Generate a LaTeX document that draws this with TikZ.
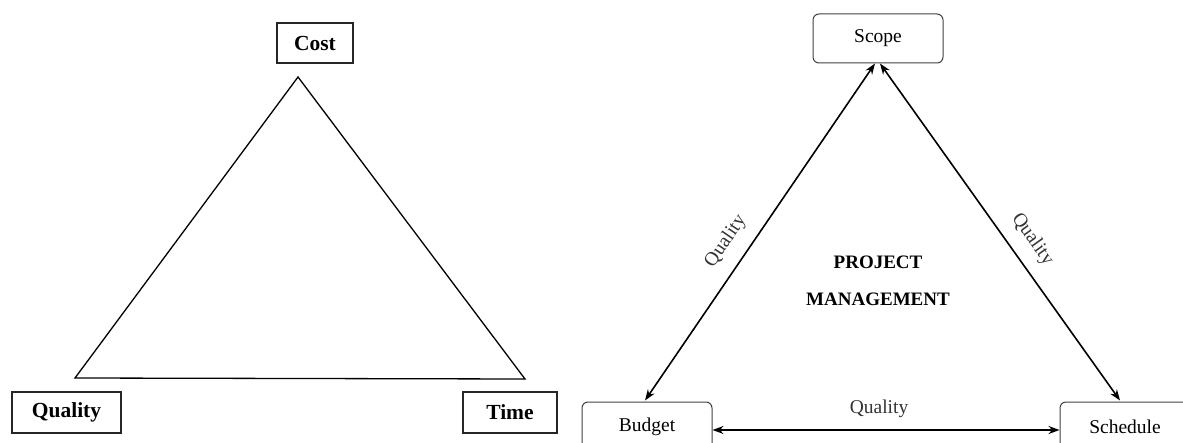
\documentclass[tikz,border=0pt]{standalone}
\usepackage{fontspec}
\setmainfont{Liberation Serif}
\usetikzlibrary{arrows.meta}
\tikzset{
  sqbox/.style={draw=black!85, line width=1.6pt, inner sep=0pt, font=\fontsize{21.5}{25}\selectfont\bfseries},
  rbox/.style={draw=black!75, line width=1pt, rounded corners=6pt, inner sep=0pt, minimum width=130pt, minimum height=50pt, font=\fontsize{19.5}{23}\selectfont},
  tri/.style={line width=1.3pt, line join=miter},
  dbl/.style={line width=1.6pt, {Stealth[length=11pt,width=8pt]}-{Stealth[length=11pt,width=8pt]}},
  qlab/.style={font=\fontsize{19.5}{23}\selectfont, text=black!80},
  pm/.style={font=\fontsize{19}{22}\selectfont\bfseries},
}
\begin{document}
\begin{tikzpicture}[x=1pt,y=-1pt]
\clip (0,0) rectangle (1183,443);
\useasboundingbox (0,0) rectangle (1183,443);
% ---- left diagram ----
\node[sqbox, minimum width=76pt, minimum height=40pt] (cost) at (315,43) {Cost};
\node[sqbox, minimum width=109pt, minimum height=41pt] (qual) at (66.5,412.5) {Quality};
\node[sqbox, minimum width=94pt, minimum height=41pt] (time) at (510,412.5) {Time};
\coordinate (tA) at (298,77);
\coordinate (tB) at (75,378);
\coordinate (tC) at (525,379);
\draw[tri] (tA) -- (tB) -- (tC) -- cycle;
% ---- right diagram ----
\node[rbox, minimum height=49pt] (scope) at (878,38.5) {Scope};
\node[rbox] (budget) at (647,427) {Budget};
\node[rbox] (sched) at (1125,427) {Schedule};
\coordinate (sL) at ([xshift=-3pt]scope.south);
\coordinate (sR) at ([xshift=2pt]scope.south);
\coordinate (bT) at ([xshift=-2pt,yshift=1pt]budget.north);
\coordinate (cT) at ([xshift=-5pt,yshift=1pt]sched.north);
\coordinate (bE) at ([yshift=-3pt]budget.east);
\coordinate (cW) at ([yshift=-3pt]sched.west);
\draw[dbl] (bT) -- node[qlab, pos=0.434, sloped, above=10pt] {Quality} (sL);
\draw[dbl] (sR) -- node[qlab, pos=0.56, sloped, above=9pt] {Quality} (cT);
\draw[dbl] (bE) -- node[qlab, pos=0.48, above=8pt] {Quality} (cW);
\node[pm] (pm1) at (878,262) {PROJECT};
\node[pm] (pm2) at (878,299) {MANAGEMENT};
\end{tikzpicture}
\end{document}
